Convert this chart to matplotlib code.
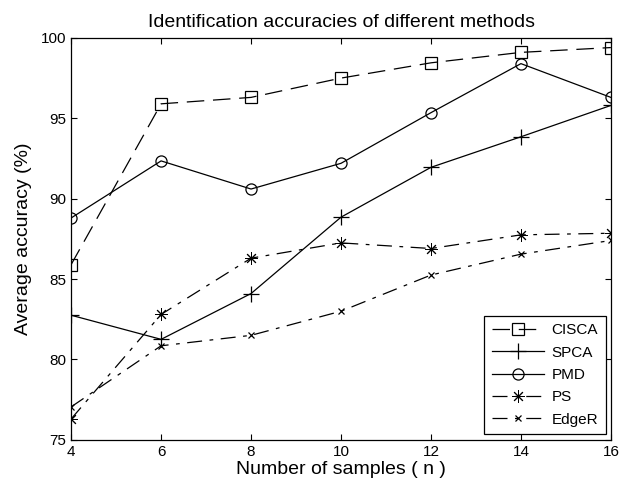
import matplotlib
matplotlib.use("Agg")
import matplotlib.pyplot as plt

plt.rcParams['font.family'] = ['Liberation Sans', 'DejaVu Sans']

# --- data ---
n_samples = [4, 6, 8, 10, 12, 14, 16]
cisca = [85.9, 95.9, 96.3, 97.5, 98.45, 99.1, 99.4]
spca = [82.75, 81.25, 84.1, 88.85, 91.95, 93.85, 95.8]
pmd = [88.8, 92.35, 90.6, 92.2, 95.35, 98.4, 96.3]
ps = [76.3, 82.8, 86.3, 87.25, 86.9, 87.75, 87.85]
edger = [77.05, 80.85, 81.5, 83.0, 85.25, 86.55, 87.4]

fig = plt.figure(figsize=(6.24, 4.86), dpi=100)
ax = fig.add_axes([0.114, 0.095, 0.865, 0.827])

lw = 0.9
ax.plot(n_samples, cisca, color='black', lw=lw, linestyle=(0, (14, 7)),
        marker='s', markersize=8, markerfacecolor='none', markeredgewidth=0.9, label='CISCA')
ax.plot(n_samples, spca, color='black', lw=lw, linestyle='-',
        marker='+', markersize=11, markeredgewidth=0.9, label='SPCA')
ax.plot(n_samples, pmd, color='black', lw=lw, linestyle='-',
        marker='o', markersize=8, markerfacecolor='none', markeredgewidth=0.9, label='PMD')
ax.plot(n_samples, ps, color='black', lw=lw, linestyle=(0, (12, 6, 3, 6)),
        marker=(8, 2, 0), markersize=9, markeredgewidth=0.7, label='PS')
ax.plot(n_samples, edger, color='black', lw=lw, linestyle=(0, (12, 6, 3, 6)),
        marker='x', markersize=5, markeredgewidth=0.9, label='EdgeR')

ax.set_xlim(4, 16)
ax.set_ylim(75, 100)
ax.set_xticks(range(4, 17, 2))
ax.set_yticks(range(75, 101, 5))
ax.tick_params(direction='in', top=True, right=True, labelsize=11, length=4)
for s in ax.spines.values():
    s.set_linewidth(0.9)

ax.set_title('Identification accuracies of different methods', fontsize=14, pad=8)
ax.set_xlabel('Number of samples ( n )', fontsize=14, labelpad=2)
ax.set_ylabel('Average accuracy (%)', fontsize=14, labelpad=6)

leg = ax.legend(loc='lower right', fontsize=11, fancybox=False, edgecolor='black',
                framealpha=1, handlelength=3.4, handletextpad=0.5, borderpad=0.5,
                borderaxespad=0.35, labelspacing=0.55)
leg.get_frame().set_linewidth(0.9)

fig.savefig('out.png', dpi=100)
